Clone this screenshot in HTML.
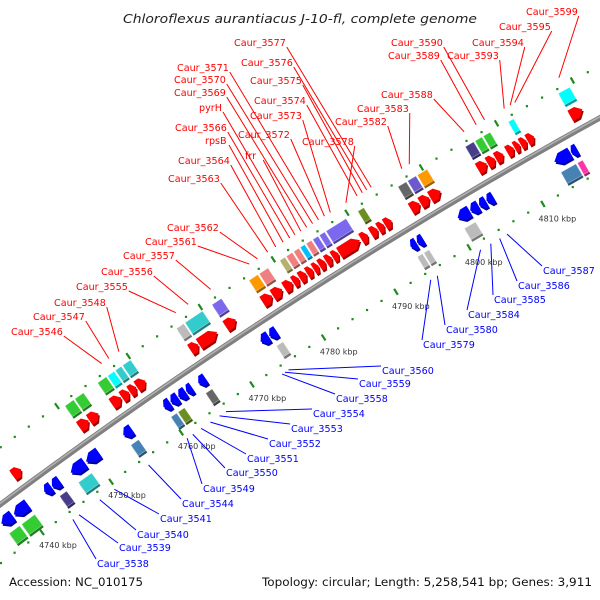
<!DOCTYPE html>
<html><head><meta charset="utf-8">
<style>
html,body{margin:0;padding:0;background:#fff;}
svg{display:block;font-family:"DejaVu Sans","Liberation Sans",sans-serif;}
</style></head>
<body>
<svg id="chart" width="600" height="600" viewBox="0 0 600 600" xmlns="http://www.w3.org/2000/svg">
<rect x="0" y="0" width="600" height="600" fill="#fff"/>
<text x="300" y="23" text-anchor="middle" font-style="italic" font-size="12.5" fill="#222" textLength="354" lengthAdjust="spacingAndGlyphs">Chloroflexus aurantiacus J-10-fl, complete genome</text>
<g id="ticks"></g>
<g id="backbone"></g>
<g id="features"></g>
<g id="labels"></g>
<text x="9" y="586" font-size="11.5" fill="#111" textLength="134" lengthAdjust="spacingAndGlyphs">Accession: NC_010175</text>
<text x="262" y="586" font-size="11.5" fill="#111" textLength="330" lengthAdjust="spacingAndGlyphs">Topology: circular; Length: 5,258,541 bp; Genes: 3,911</text>
</svg>
<script>
// ---- data (kbp) ----
const fwdStart=[4741.2,4750.7,4752.1,4755.3,4756.7,4757.8,4758.8,4766.3,4767.5,4771.2,4776.3,4777.7,4779.3,4780.5,4781.4,4782.4,4783.3,4784.1,4785.0,4785.9,4786.8,4789.8,4791.1,4792.1,4793.0,4796.5,4797.8,4799.1,4805.5,4806.8,4807.9,4809.4,4810.4,4811.2,4812.1,4817.8];
const fwdEnd=[4742.4,4752.0,4753.4,4756.6,4757.7,4758.7,4760.0,4767.4,4770.0,4772.6,4777.6,4779.0,4780.4,4781.3,4782.3,4783.2,4784.0,4784.9,4785.8,4786.7,4789.6,4790.7,4792.0,4792.9,4793.9,4797.7,4799.0,4800.5,4806.7,4807.8,4808.9,4810.3,4811.1,4812.0,4813.0,4819.4];
const fwdColor=[null,"#33cc33","#33cc33","#33cc33","#00ffff","#33cccc","#33cccc","#bbbbbb","#33cccc","#7b68ee","#ff9900","#f08080",null,"#b5b06b","#f08080","#f08080","#00bfff","#f08080","#7b68ee","#7b68ee","#7b68ee",null,"#6b8e23",null,null,"#666666","#6a5acd","#ff9900","#483d8b","#33cc33","#33cc33",null,null,"#00ffff",null,"#00ffff"];
const revStart=[4736.8,4738.6,4743.0,4744.1,4746.8,4749.0,4754.3,4760.0,4761.0,4762.1,4763.2,4764.9,4773.6,4774.8,4794.2,4795.1,4800.6,4802.3,4803.5,4804.5,4813.6,4815.8];
const revEnd=[4738.4,4740.6,4744.0,4745.2,4748.8,4750.8,4755.5,4760.9,4762.0,4763.1,4764.0,4765.9,4774.7,4775.8,4795.0,4795.9,4802.2,4803.4,4804.4,4805.4,4815.7,4816.6];
const revColor=["#33cc33","#33cc33",null,"#483d8b","#33cccc",null,"#4682b4","#4682b4","#6b8e23",null,null,"#666666",null,"#bbbbbb","#bbbbbb","#bbbbbb","#bbbbbb",null,null,null,"#4682b4","#ff33aa"];
const tickKbp=[4740,4750,4760,4770,4780,4790,4800,4810];
const tickText=["4740 kbp","4750 kbp","4760 kbp","4770 kbp","4780 kbp","4790 kbp","4800 kbp","4810 kbp"];
const fwdLabelText=["Caur_3546","Caur_3547","Caur_3548","Caur_3555","Caur_3556","Caur_3557","Caur_3561","Caur_3562","Caur_3563","Caur_3564","rpsB","Caur_3566","pyrH","frr","Caur_3569","Caur_3570","Caur_3571","Caur_3572","Caur_3573","Caur_3578","Caur_3574","Caur_3575","Caur_3576","Caur_3577","Caur_3582","Caur_3583","Caur_3588","Caur_3589","Caur_3590","Caur_3593","Caur_3594","Caur_3595","Caur_3599"];
const fwdLabelK=[4757.0,4758.0,4759.4,4767.3,4769.0,4772.1,4777.4,4778.5,4779.9,4781.0,4782.0,4782.9,4783.6,4784.4,4785.2,4786.0,4786.8,4787.6,4788.4,4790.5,4792.0,4792.7,4793.3,4793.9,4798.0,4799.0,4806.3,4807.9,4809.0,4811.6,4812.4,4813.0,4818.8];
const revLabelText=["Caur_3538","Caur_3539","Caur_3540","Caur_3541","Caur_3544","Caur_3549","Caur_3550","Caur_3551","Caur_3552","Caur_3553","Caur_3554","Caur_3558","Caur_3559","Caur_3560","Caur_3579","Caur_3580","Caur_3584","Caur_3585","Caur_3586","Caur_3587"];
const revLabelK=[4743.8,4744.7,4747.7,4749.8,4754.7,4760.2,4761.0,4762.2,4763.5,4764.8,4765.7,4773.6,4774.0,4774.5,4794.2,4795.1,4801.0,4802.4,4803.6,4804.6];
// label text layout (screen positions of text, not data)
const fwdLabelLayout=[[11,335],[33,320],[54,306],[76,290],[101,275],[123,259],[145,245],[167,231],[168,182],[178,164],[205,144],[175,131],[199,111],[245,159],[174,96],[174,83],[177,71],[238,138],[250,119],[302,145],[254,104],[250,84],[241,66],[234,46],[335,125],[357,112],[381,98],[388,59],[391,46],[447,59],[472,46],[499,30],[526,15]];
const revLabelLayout=[[97,567],[119,551],[137,538],[160,522],[182,507],[203,492],[226,476],[247,462],[269,447],[291,432],[313,417],[336,402],[359,387],[382,374],[423,348],[446,333],[468,318],[494,303],[518,289],[543,274]];

// ---- geometry ----
const CX=3129, CY=4698, R=5232, TH0=-126.54, DK=0.0946, K0=4740;
function pos(k,v){const t=(TH0+(k-K0)*DK)*Math.PI/180;const r=R+v;return [CX+r*Math.cos(t),CY+r*Math.sin(t)];}
const NS="http://www.w3.org/2000/svg";
function mk(tag,parent){const e=document.createElementNS(NS,tag);parent.appendChild(e);return e;}
function pts(list,dx,dy){return list.map(p=>{const q=pos(p[0],p[1]);return (q[0]+(dx||0)).toFixed(2)+","+(q[1]+(dy||0)).toFixed(2);}).join(" ");}
function darken(c){const n=parseInt(c.slice(1),16);const f=0.62;const r=Math.round(((n>>16)&255)*f),g=Math.round(((n>>8)&255)*f),b=Math.round((n&255)*f);return "rgb("+r+","+g+","+b+")";}

const gT=document.getElementById('ticks'), gB=document.getElementById('backbone'), gF=document.getElementById('features'), gL=document.getElementById('labels');

// tick rows
[46,-47].forEach(function(v){
  for(let k=4734;k<=4824;k+=2){
    if(k%10===0){
      const a=pos(k,v-3.5), b=pos(k,v+3.5);
      const l=mk('line',gT);
      
      
      l.setAttribute('x1',a[0]);l.setAttribute('y1',a[1]);l.setAttribute('x2',b[0]);l.setAttribute('y2',b[1]);
      l.setAttribute('stroke','#1f8a1f');l.setAttribute('stroke-width','2.2');
    } else {
      const p=pos(k,v);
      const d=mk('rect',gT);
      
      
      d.setAttribute('x',p[0]-1);d.setAttribute('y',p[1]-1);d.setAttribute('width',2.2);d.setAttribute('height',2.2);
      d.setAttribute('fill','#1f8a1f');
    }
  }
});
tickKbp.forEach(function(k,i){
  const p=pos(k+0.6,-67);
  const t=mk('text',gT);
  
  
  t.setAttribute('x',p[0]);t.setAttribute('y',p[1]+3);t.setAttribute('text-anchor','middle');
  t.setAttribute('font-size','8');t.setAttribute('fill','#333');
  t.textContent=tickText[i];
});

// backbone
(function(){
  let d="";
  for(let k=4733;k<=4826;k+=1){const p=pos(k,0);d+=(d?"L":"M")+p[0].toFixed(2)+" "+p[1].toFixed(2);}
  const a=mk('path',gB);
  
  
  a.setAttribute('d',d);a.setAttribute('stroke','#808080');a.setAttribute('stroke-width','5.5');a.setAttribute('fill','none');
  let d2="";
  for(let k=4733;k<=4826;k+=1){const p=pos(k,1);d2+=(d2?"L":"M")+p[0].toFixed(2)+" "+p[1].toFixed(2);}
  const b=mk('path',gB);
  
  
  b.setAttribute('d',d2);b.setAttribute('stroke','#b0b0b0');b.setAttribute('stroke-width','1.6');b.setAttribute('fill','none');
})();

// features
function arrow(s,e,dir,vc,h,fill,name){
  const v1=vc-h/2,v2=vc+h/2,len=e-s,hl=Math.min(len*0.45,0.8);
  let shape;
  if(dir>0) shape=[[s,v1],[e-hl,v1],[e,vc],[e-hl,v2],[s,v2]];
  else shape=[[e,v1],[s+hl,v1],[s,vc],[s+hl,v2],[e,v2]];
  const sh=mk('polygon',gF);
  
  
  sh.setAttribute('points',pts(shape,1.3,2));sh.setAttribute('fill',darken(fill));
  const p=mk('polygon',gF);
  
  
  p.setAttribute('points',pts(shape));p.setAttribute('fill',fill);
}
function box(s,e,vc,h,fill,name){
  const v1=vc-h/2,v2=vc+h/2;
  const shape=[[s,v1],[e,v1],[e,v2],[s,v2]];
  const sh=mk('polygon',gF);
  
  
  sh.setAttribute('points',pts(shape,1.3,2.2));sh.setAttribute('fill',darken(fill));
  const p=mk('polygon',gF);
  
  
  p.setAttribute('points',pts(shape));p.setAttribute('fill',fill);
  p.setAttribute('stroke','rgba(255,255,255,0.5)');p.setAttribute('stroke-width','0.6');
}
fwdStart.forEach(function(s,i){
  if(fwdColor[i]) box(s+0.05,fwdEnd[i]-0.05,35,13,fwdColor[i],'cog-box-forward');
  arrow(s,fwdEnd[i],1,16,12,'#ff0000','gene-forward');
});
revStart.forEach(function(s,i){
  if(revColor[i]) box(s+0.05,revEnd[i]-0.05,-35,13,revColor[i],'cog-box-reverse');
  arrow(s,revEnd[i],-1,-16,12,'#0000ff','gene-reverse');
});

// labels
fwdLabelText.forEach(function(txt,i){
  const L=fwdLabelLayout[i];
  const t=mk('text',gL);
  
  
  t.setAttribute('x',L[0]);t.setAttribute('y',L[1]);t.setAttribute('font-size','9.6');t.setAttribute('fill','#ff0000');
  t.textContent=txt;
  const w=txt.length*5.75;
  const p=pos(fwdLabelK[i],55);
  const l=mk('line',gL);
  
  
  l.setAttribute('x1',L[0]+w+1);l.setAttribute('y1',L[1]+1);l.setAttribute('x2',p[0]);l.setAttribute('y2',p[1]);
  l.setAttribute('stroke','#ff0000');l.setAttribute('stroke-width','1');
});
revLabelText.forEach(function(txt,i){
  const L=revLabelLayout[i];
  const t=mk('text',gL);
  
  
  t.setAttribute('x',L[0]);t.setAttribute('y',L[1]);t.setAttribute('font-size','9.6');t.setAttribute('fill','#0000ff');
  t.textContent=txt;
  const p=pos(revLabelK[i],-55);
  const l=mk('line',gL);
  
  
  l.setAttribute('x1',L[0]-1);l.setAttribute('y1',L[1]-8);l.setAttribute('x2',p[0]);l.setAttribute('y2',p[1]);
  l.setAttribute('stroke','#0000ff');l.setAttribute('stroke-width','1');
});
</script>
</body></html>
